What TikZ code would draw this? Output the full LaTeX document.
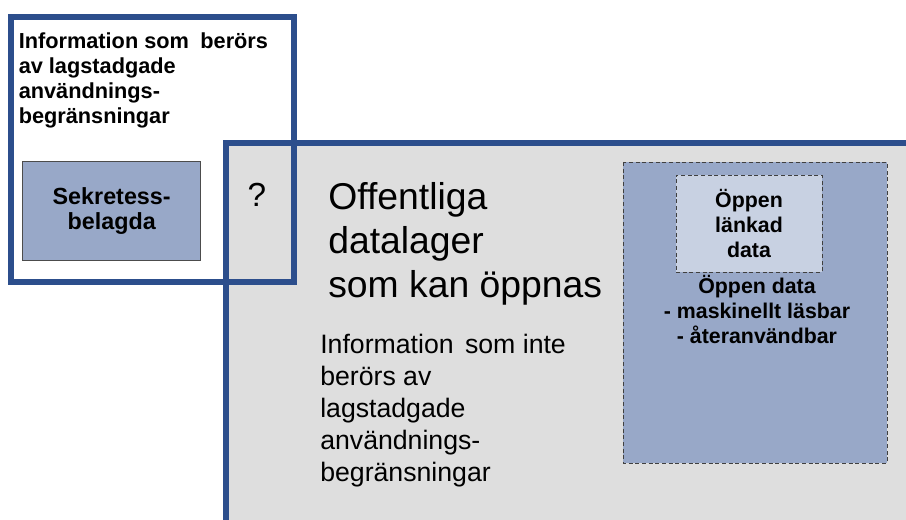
\documentclass[tikz,border=0pt]{standalone}
\usepackage{fontspec}
\setmainfont{Liberation Sans}
\usetikzlibrary{positioning}
\definecolor{frameblue}{HTML}{2C4E8C}
\definecolor{areagray}{HTML}{DEDEDE}
\definecolor{boxblue}{HTML}{98A8C8}
\definecolor{lightblue}{HTML}{C8D1E2}

\begin{document}
\begin{tikzpicture}[x=0.75pt,y=-0.75pt]
            \tikzstyle{frame}=[draw=frameblue, line width=4.5pt]
            \tikzstyle{dashbox}=[draw=black!75, densely dashed, line width=0.6pt]
            \tikzstyle{boldtxt}=[inner sep=0pt, align=center,
            font=\fontsize{16}{18.75}\selectfont\bfseries]
            \tikzstyle{plaintxt}=[inner sep=0pt, align=left]
            \useasboundingbox (0,0) rectangle (906,520);
            \clip (0,0) rectangle (906,520);
            % public area and the restricted frame over it
            \draw[frame, fill=areagray] (225.5,143) rectangle (960,580);
            \draw[frame] (11,17) rectangle (294,281.5);
            \node[boldtxt, align=left, anchor=north west,
            font=\fontsize{16.3}{18.75}\selectfont\bfseries] (restricted) at (18.5,32)
            {Information som\hspace{4pt} berörs\\av lagstadgade\\användnings-\\begränsningar};
            \node[boldtxt, draw=black!70, line width=0.6pt, fill=boxblue,
            font=\fontsize{17.5}{18.5}\selectfont\bfseries,
            minimum width=133.5pt, minimum height=74.25pt] (secret) at (111.7,211)
            {Sekretess-\\belagda};
            \node[inner sep=0pt, font=\fontsize{25}{30}\selectfont] (unknown) at (257,195) {?};
            % open stores
            \node[plaintxt, anchor=north west, font=\fontsize{28}{33}\selectfont]
            (stores) at (328,182) {Offentliga\\datalager\\som kan öppnas};
            \node[plaintxt, anchor=north west, font=\fontsize{20}{24}\selectfont]
            (public) at (320,334) {Information\hspace{3pt} som inte\\berörs av\\lagstadgade\\användnings-\\begränsningar};
            % open data boxes
            \draw[dashbox, fill=boxblue] (623,162) rectangle (887,463);
            \node[boldtxt, dashbox, fill=lightblue, minimum width=109.5pt, minimum height=72.75pt]
            (linked) at (749,223.5) {Öppen\\länkad\\data};
            \node[boldtxt, anchor=north] (opendata) at (757,275)
            {Öppen data\\- maskinellt läsbar\\- återanvändbar};
        \end{tikzpicture}
\end{document}
